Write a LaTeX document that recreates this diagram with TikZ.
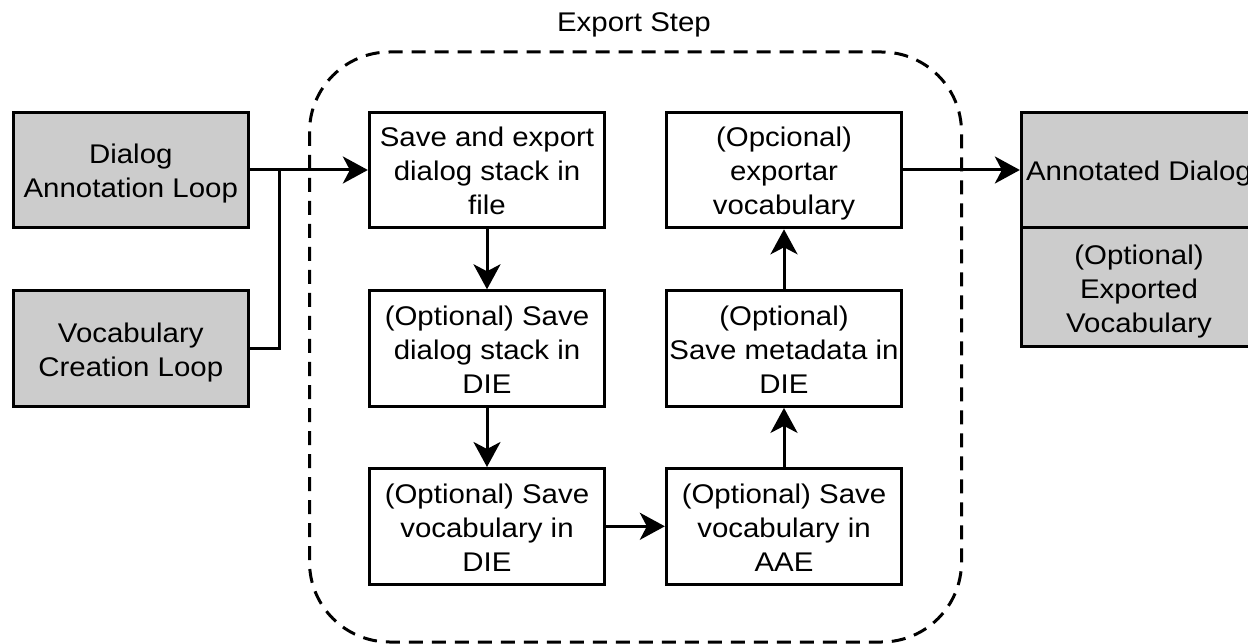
\documentclass[tikz,border=0pt]{standalone}
\usepackage{fontspec}
\setmainfont{Liberation Sans}[FakeStretch=1.09]
\usetikzlibrary{arrows.meta}
\definecolor{boxgrey}{HTML}{CCCCCC}
% line strut: height 28pt, depth 6pt, so each text line takes 34pt
\newcommand\ts{\rule[-6pt]{0pt}{34pt}}
\begin{document}
\begin{tikzpicture}[x=1pt,y=-1pt,
  every node/.style={font=\fontsize{27}{34}\selectfont},
  box/.style={draw, line width=3pt, minimum width=235.3pt, minimum height=115.6pt,
    inner sep=0pt, align=center},
  greybox/.style={box, fill=boxgrey},
  flow/.style={line width=3pt, -{Stealth[length=25pt,width=27pt,inset=7pt]}},
  link/.style={line width=3pt},
  frame/.style={line width=3pt, dash pattern=on 14pt off 9pt, rounded corners=80pt}]

\useasboundingbox (0,0) rectangle (1248,644);
\clip (0,0) rectangle (1248,644);

% export step container
\draw[frame] (309.5,52) rectangle (961.5,642);
\node (steplabel) at (634,21) {\ts Export Step};

% inputs
\node[greybox] (dal) at (130.8,170) {\ts Dialog\\\ts Annotation Loop};
\node[greybox] (vcl) at (130.8,348.6) {\ts Vocabulary\\\ts Creation Loop};

% export steps
\node[box] (save)  at (487,170)   {\ts Save and export\\\ts dialog stack in\\\ts file};
\node[box] (optds) at (487,348.6) {\ts (Optional) Save\\\ts dialog stack in\\\ts DIE};
\node[box] (optvd) at (487,526.3) {\ts (Optional) Save\\\ts vocabulary in\\\ts DIE};
\node[box] (optva) at (784,526.3) {\ts (Optional) Save\\\ts vocabulary in\\\ts AAE};
\node[box] (optmd) at (784,348.6) {\ts (Optional)\\\ts Save metadata in\\\ts DIE};
\node[box] (optex) at (784,170)   {\ts (Opcional)\\\ts exportar\\\ts vocabulary};

% outputs
\node[greybox] (anno) at (1139,170) {\ts Annotated Dialog};
\node[greybox, minimum height=119pt] (expv) at (1139,287.3)
  {\ts (Optional)\\\ts Exported\\\ts Vocabulary};

% connectors
\coordinate (join) at (279,170);
\draw[flow] (dal.east) -- (save.west);
\draw[link] (vcl.east) -| (join);
\draw[flow] (save) -- (optds);
\draw[flow] (optds) -- (optvd);
\draw[flow] (optvd) -- (optva);
\draw[flow] (optva) -- (optmd);
\draw[flow] (optmd) -- (optex);
\draw[flow] (optex) -- (anno);
\end{tikzpicture}
\end{document}
